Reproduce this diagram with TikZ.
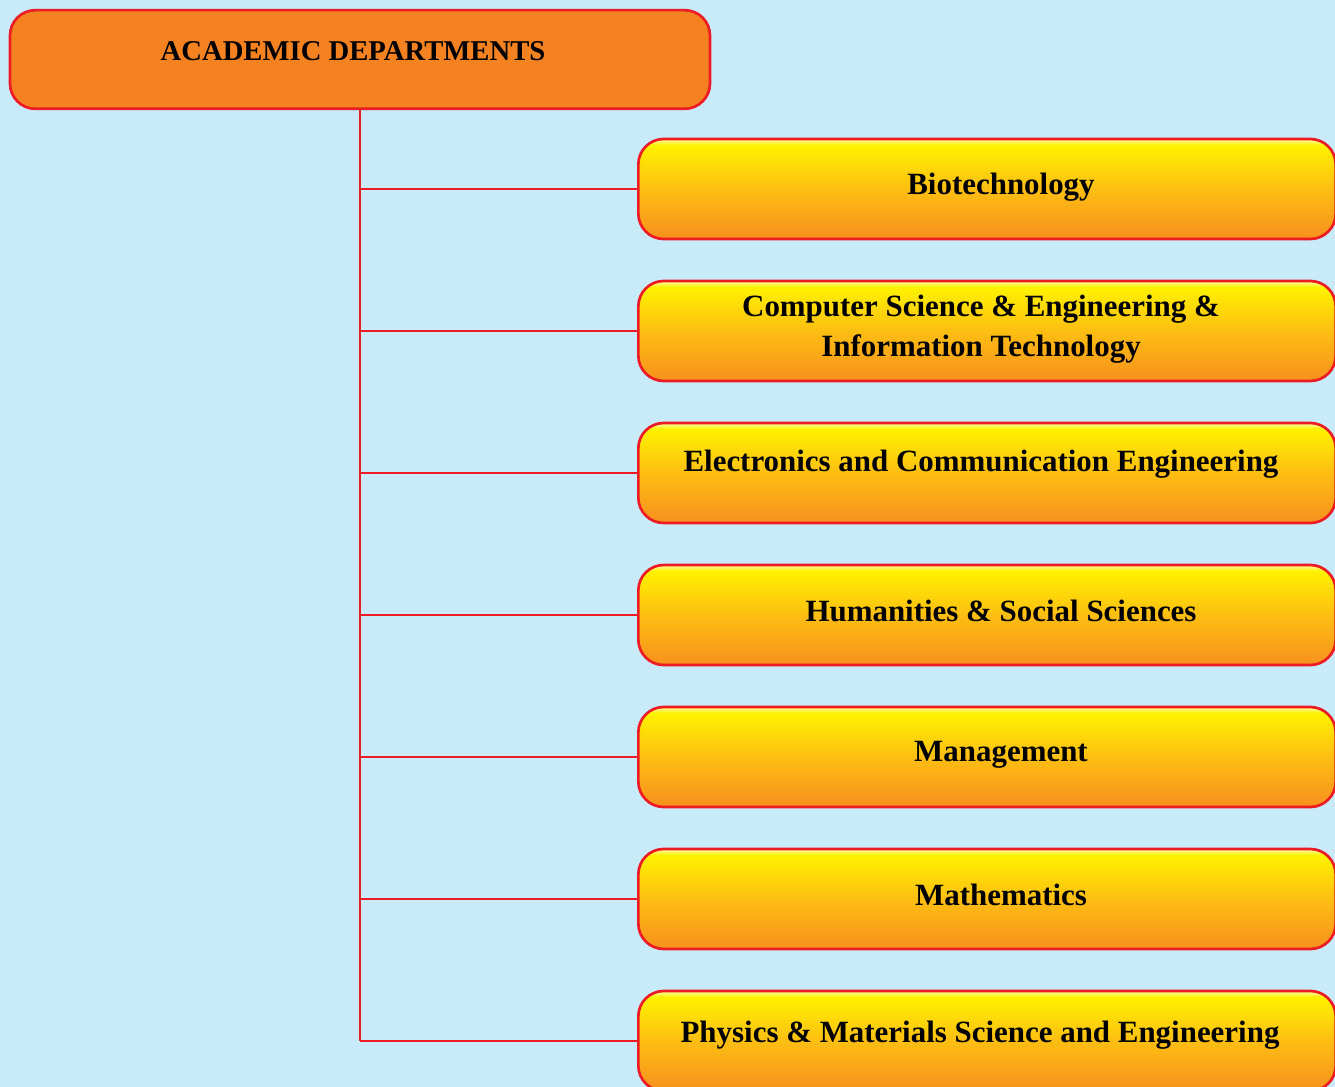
\documentclass[tikz,border=0pt]{standalone}
\usepackage{fontspec}
\setmainfont{Liberation Serif}
\definecolor{skyback}{HTML}{C8EAF9}
\definecolor{deptred}{HTML}{ED1C24}
\definecolor{deptorange}{HTML}{F58220}
\definecolor{deptyellow}{HTML}{FFF200}
\definecolor{deptgold}{HTML}{FDBE12}
\definecolor{deptamber}{HTML}{F7901E}
\pgfdeclareverticalshading{deptshade}{100bp}{color(0bp)=(deptamber); color(25bp)=(deptamber); color(50bp)=(deptgold); color(72bp)=(deptyellow); color(74bp)=(deptyellow!55!white); color(75bp)=(deptyellow!55!white); color(100bp)=(deptyellow!55!white)}
\begin{document}
\begin{tikzpicture}[x=0.75pt,y=-0.75pt,
    headbox/.style={draw=deptred,line width=2pt,fill=deptorange,rounded corners=19pt,minimum width=525pt,minimum height=74pt},
    deptbox/.style={draw=deptred,line width=2pt,shading=deptshade,rounded corners=19pt,minimum width=523pt,minimum height=75pt},
    depttext/.style={font=\bfseries\fontsize{23.2}{30}\selectfont,align=center},
    headtext/.style={font=\bfseries\fontsize{21.5}{30}\selectfont},
    link/.style={draw=deptred,line width=1.6pt}]
    \fill[skyback] (0,0) rectangle (1335,1087);
    \useasboundingbox (0,0) rectangle (1335,1087);
    % heading box
    \node[headbox] (head) at (360,59.5) {};
    \node[headtext] (headlabel) at (353,51) {ACADEMIC DEPARTMENTS};
    % department boxes
    \node[deptbox] (bio) at (987,189) {};
    \node[deptbox] (cse) at (987,331) {};
    \node[deptbox] (ece) at (987,473) {};
    \node[deptbox] (hss) at (987,615) {};
    \node[deptbox] (mgmt) at (987,757) {};
    \node[deptbox] (math) at (987,899) {};
    \node[deptbox] (phys) at (987,1041) {};
    \node[depttext] (biolabel) at (1001,187) {Biotechnology};
    \node[depttext] (cselabel) at (981,329) {Computer Science \& Engineering \&\\Information Technology};
    \node[depttext] (ecelabel) at (981,464) {Electronics and Communication Engineering};
    \node[depttext] (hsslabel) at (1001,611) {Humanities \& Social Sciences};
    \node[depttext] (mgmtlabel) at (1001,755) {Management};
    \node[depttext] (mathlabel) at (1001,895) {Mathematics};
    \node[depttext] (physlabel) at (980,1035) {Physics \& Materials Science and Engineering};
    % trunk and branches
    \coordinate (trunkend) at (head.south |- phys.west);
    \draw[link] (head.south) -- (trunkend);
    \foreach \dept in {bio,cse,ece,hss,mgmt,math,phys}
        \draw[link] (head.south |- \dept.west) -- (\dept.west);
\end{tikzpicture}
\end{document}
